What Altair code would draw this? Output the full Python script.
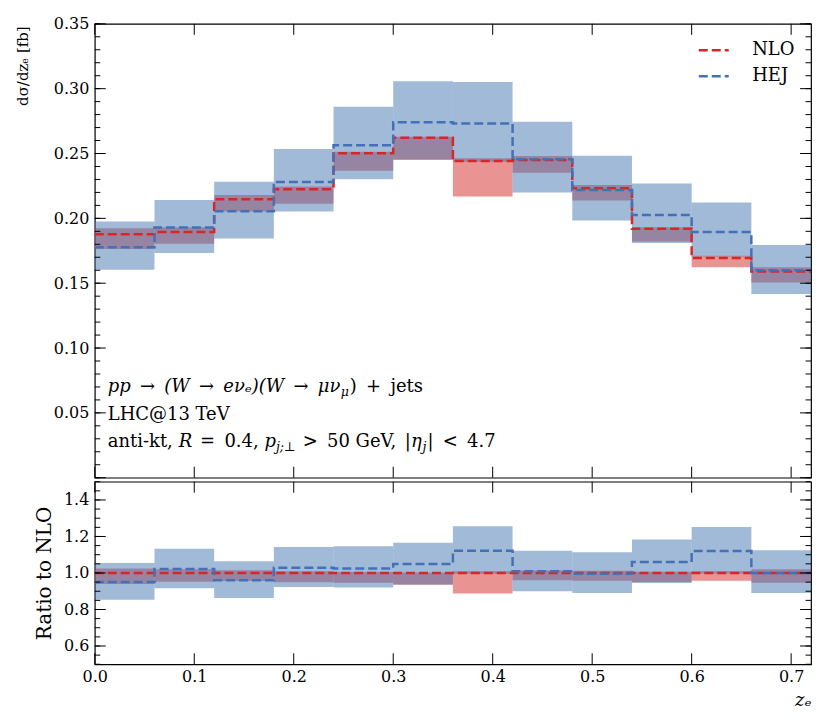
import altair as alt
import pandas as pd

# ---------------- data ----------------
EDGES = [0.00, 0.06, 0.12, 0.18, 0.24, 0.30, 0.36, 0.42, 0.48, 0.54, 0.60, 0.66, 0.72]

NLO    = [0.1878, 0.1894, 0.2148, 0.2225, 0.2502, 0.2622, 0.2442, 0.2450, 0.2232, 0.1919, 0.1694, 0.1591]
NLO_LO = [0.1763, 0.1804, 0.2053, 0.2112, 0.2368, 0.2450, 0.2168, 0.2352, 0.2137, 0.1822, 0.1622, 0.1506]
NLO_HI = [0.1924, 0.1932, 0.2181, 0.2245, 0.2514, 0.2630, 0.2463, 0.2481, 0.2258, 0.1932, 0.1712, 0.1622]

HEJ    = [0.1778, 0.1929, 0.2055, 0.2281, 0.2563, 0.2742, 0.2732, 0.2455, 0.2219, 0.2025, 0.1894, 0.1600]
HEJ_LO = [0.1604, 0.1732, 0.1845, 0.2053, 0.2302, 0.2455, 0.2437, 0.2199, 0.1983, 0.1809, 0.1706, 0.1417]
HEJ_HI = [0.1976, 0.2142, 0.2283, 0.2535, 0.2860, 0.3058, 0.3052, 0.2745, 0.2483, 0.2268, 0.2122, 0.1794]

R_NLO    = [1.000, 1.000, 1.000, 1.000, 1.000, 1.000, 1.000, 1.000, 1.000, 1.000, 1.000, 1.000]
R_NLO_LO = [0.940, 0.952, 0.956, 0.949, 0.946, 0.935, 0.888, 0.960, 0.957, 0.950, 0.957, 0.947]
R_NLO_HI = [1.025, 1.020, 1.015, 1.009, 1.005, 1.003, 1.009, 1.013, 1.012, 1.007, 1.010, 1.020]

R_HEJ    = [0.951, 1.022, 0.960, 1.029, 1.024, 1.049, 1.122, 1.009, 0.996, 1.060, 1.120, 1.000]
R_HEJ_LO = [0.854, 0.916, 0.863, 0.923, 0.920, 0.937, 0.996, 0.900, 0.890, 0.945, 0.997, 0.890]
R_HEJ_HI = [1.055, 1.133, 1.064, 1.142, 1.146, 1.166, 1.256, 1.122, 1.113, 1.183, 1.252, 1.124]

SERIES = ["NLO", "HEJ"]

X_LABELS = [0.0, 0.1, 0.2, 0.3, 0.4, 0.5, 0.6, 0.7]
Y_TOP_LABELS = [0.05, 0.10, 0.15, 0.20, 0.25, 0.30, 0.35]
Y_TOP_MINOR = [i / 100 for i in range(0, 36)]
Y_BOT_LABELS = [0.6, 0.8, 1.0, 1.2, 1.4]
Y_BOT_MINOR = [0.5 + i * 0.05 for i in range(0, 21)]

# ---------------- style ----------------
FONT = "DejaVu Serif"
RED = "#d62728"
BLUE_BAND = "#4375b1"
BLUE_LINE = "#4471b5"
W = 718
H_TOP = 455
H_BOT = 183
MAJ = 11
MIN = 5.5
NB = "\u00a0"
TH = "\u2009"
S = NB + TH


def bands(lo, hi):
    return pd.DataFrame({"x0": EDGES[:-1], "x1": EDGES[1:], "lo": lo, "hi": hi})


def steps(series_vals):
    rows = []
    for name, vals in series_vals:
        ext = list(vals) + [vals[-1]]
        for x, v in zip(EDGES, ext):
            rows.append({"x": x, "v": v, "s": name})
    return pd.DataFrame(rows)


xscale = alt.Scale(domain=[0, 0.72], nice=False, zero=False)
ytop = alt.Scale(domain=[0, 0.35], nice=False, zero=False)
ybot = alt.Scale(domain=[0.5, 1.5], nice=False, zero=False)
cscale = alt.Scale(domain=SERIES, range=[RED, BLUE_LINE])

TOP_Y_AXIS = alt.Axis(values=Y_TOP_LABELS, format=".2f", ticks=False, domain=False, grid=False,
                      labelFontSize=16, labelPadding=6, labelFlush=False,
                      title="dσ/dzₑ [fb]", titleFontSize=15, titleAngle=270,
                      titleX=-72, titleY=2, titleAlign="right", titleBaseline="middle")
BOT_Y_AXIS = alt.Axis(values=Y_BOT_LABELS, format=".1f", ticks=False, domain=False, grid=False,
                      labelFontSize=16, labelPadding=6, labelFlush=False,
                      title="Ratio to NLO", titleFontSize=20, titleAngle=270,
                      titleX=-50, titleY=H_BOT / 2, titleAlign="center", titleBaseline="middle")
BOT_X_AXIS = alt.Axis(values=X_LABELS, format=".1f", ticks=False, domain=False, grid=False,
                      labelFontSize=16, labelPadding=4, labelFlush=False,
                      title="zₑ", titleFontSize=18, titleFontStyle="italic",
                      titleX=W, titleY=36, titleAlign="right", titleBaseline="middle")


def tick_layers(xvals, yvals_major, yvals_minor, yscale, yaxis, xaxis, h):
    out = []
    dmaj = pd.DataFrame({"v": yvals_major})
    dmin = pd.DataFrame({"v": yvals_minor})
    dx = pd.DataFrame({"v": xvals})
    for d, ln in ((dmaj, MAJ), (dmin, MIN)):
        yenc = alt.Y("v:Q", scale=yscale, axis=yaxis)
        out.append(alt.Chart(d).mark_rule(color="black", strokeWidth=1).encode(
            y=yenc, x=alt.value(0), x2=alt.value(ln)))
        out.append(alt.Chart(d).mark_rule(color="black", strokeWidth=1).encode(
            y=yenc, x=alt.value(W - ln), x2=alt.value(W)))
    xenc = alt.X("v:Q", scale=xscale, axis=xaxis)
    out.append(alt.Chart(dx).mark_rule(color="black", strokeWidth=1).encode(
        x=xenc, y=alt.value(h - MAJ), y2=alt.value(h)))
    out.append(alt.Chart(dx).mark_rule(color="black", strokeWidth=1).encode(
        x=xenc, y=alt.value(0), y2=alt.value(MAJ)))
    return out


# approximate advance widths (em) for DejaVu Serif, used only to place annotation pieces
WID = {" ": 0.318, NB: 0.318, TH: 0.2, "p": 0.64, "→": 0.838, "(": 0.39, ")": 0.39, "W": 1.03,
       "e": 0.592, "ν": 0.59, "ₑ": 0.40, "μ": 0.65, "+": 0.838, "j": 0.32, "t": 0.402,
       "s": 0.513, "a": 0.596, "n": 0.644, "i": 0.32, "-": 0.338, "k": 0.617, ",": 0.318,
       "R": 0.734, "=": 0.838, ".": 0.318, ">": 0.838, "G": 0.775, "V": 0.722, "|": 0.337,
       "η": 0.64, "<": 0.838, "⊥": 0.838, ";": 0.337}


def twidth(s):
    return sum(WID.get(c, 0.636) for c in s)


def text_pieces(spec, x0, y0, size):
    """spec: (text, is_subscript, is_italic, gap_before_em); no leading/trailing blanks in text."""
    out = []
    x = x0
    for txt, sub, ital, gap in spec:
        fs = size * 0.7 if sub else size
        x += gap * size
        yy = y0 + (size * 0.3 if sub else 0)
        kw = dict(align="left", baseline="middle", font=FONT, fontSize=fs, color="black")
        if ital:
            kw["fontStyle"] = "italic"
        out.append(alt.Chart(pd.DataFrame({"t": [txt]})).mark_text(**kw).encode(
            text="t:N", x=alt.value(x), y=alt.value(yy)))
        x += twidth(txt) * fs
    return out


ANN_SIZE = 18
line1 = text_pieces([("pp" + S + "→" + S + "(W" + S + "→" + S + "eνₑ)(W" + S + "→" + S + "μν", False, True, 0),
                     ("μ", True, True, 0.02),
                     (")" + S + "+" + S + "jets", False, False, 0.05)], 13, 364, ANN_SIZE)
line2 = text_pieces([("LHC@13" + NB + "TeV", False, False, 0)], 13, 392, ANN_SIZE)
line3 = text_pieces([("anti-kt,", False, False, 0),
                     ("R", False, True, 0.32),
                     ("=" + S + "0.4,", False, False, 0.45),
                     ("p", False, True, 0.32),
                     ("j;⊥", True, True, 0.0),
                     (">" + S + "50" + NB + "GeV,", False, False, 0.45),
                     ("|", False, False, 0.32),
                     ("η", False, True, 0.02),
                     ("j", True, True, 0.0),
                     ("|" + S + "<" + S + "4.7", False, False, 0.05)],
                    13, 419, ANN_SIZE)

# ---------------- top panel ----------------
top_red = alt.Chart(bands(NLO_LO, NLO_HI)).mark_rect(color=RED, opacity=0.5).encode(
    x=alt.X("x0:Q", scale=xscale, axis=None), x2="x1",
    y=alt.Y("lo:Q", scale=ytop, axis=TOP_Y_AXIS), y2="hi")
top_blue = alt.Chart(bands(HEJ_LO, HEJ_HI)).mark_rect(color=BLUE_BAND, opacity=0.5).encode(
    x=alt.X("x0:Q", scale=xscale, axis=None), x2="x1",
    y=alt.Y("lo:Q", scale=ytop, axis=TOP_Y_AXIS), y2="hi")
top_lines = alt.Chart(steps([("NLO", NLO), ("HEJ", HEJ)])).mark_line(
    interpolate="step-after", strokeDash=[9, 4], strokeWidth=2.5).encode(
    x=alt.X("x:Q", scale=xscale, axis=None),
    y=alt.Y("v:Q", scale=ytop, axis=TOP_Y_AXIS),
    color=alt.Color("s:N", scale=cscale, sort=SERIES,
                    legend=alt.Legend(title=None, orient="none", legendX=604, legendY=10,
                                      symbolType="stroke", symbolSize=900, symbolStrokeWidth=2.5,
                                      symbolDash=[9, 4], labelFont=FONT, labelFontSize=18,
                                      labelColor="black", labelOffset=22, rowPadding=0, padding=0)))

top = alt.layer(top_red, top_blue, top_lines,
                *tick_layers(X_LABELS, [0.0] + Y_TOP_LABELS, Y_TOP_MINOR, ytop, TOP_Y_AXIS, None, H_TOP),
                *line1, *line2, *line3).properties(width=W, height=H_TOP)

# ---------------- ratio panel ----------------
bot_red = alt.Chart(bands(R_NLO_LO, R_NLO_HI)).mark_rect(color=RED, opacity=0.5).encode(
    x=alt.X("x0:Q", scale=xscale, axis=BOT_X_AXIS), x2="x1",
    y=alt.Y("lo:Q", scale=ybot, axis=BOT_Y_AXIS), y2="hi")
bot_blue = alt.Chart(bands(R_HEJ_LO, R_HEJ_HI)).mark_rect(color=BLUE_BAND, opacity=0.5).encode(
    x=alt.X("x0:Q", scale=xscale, axis=BOT_X_AXIS), x2="x1",
    y=alt.Y("lo:Q", scale=ybot, axis=BOT_Y_AXIS), y2="hi")
bot_lines = alt.Chart(steps([("NLO", R_NLO), ("HEJ", R_HEJ)])).mark_line(
    interpolate="step-after", strokeDash=[9, 4], strokeWidth=2.5).encode(
    x=alt.X("x:Q", scale=xscale, axis=BOT_X_AXIS),
    y=alt.Y("v:Q", scale=ybot, axis=BOT_Y_AXIS),
    color=alt.Color("s:N", scale=cscale, sort=SERIES, legend=None))

bottom = alt.layer(bot_red, bot_blue, bot_lines,
                   *tick_layers(X_LABELS, Y_BOT_LABELS, Y_BOT_MINOR, ybot, BOT_Y_AXIS, BOT_X_AXIS, H_BOT)
                   ).properties(width=W, height=H_BOT)

chart = alt.vconcat(top, bottom, spacing=0).resolve_legend(color="independent").properties(
    padding={"left": 7, "top": 6, "right": 5, "bottom": 5}
).configure_view(stroke="black", strokeWidth=1.2).configure_axis(
    labelFont=FONT, titleFont=FONT, labelColor="black", titleColor="black", titleFontWeight="normal"
)

chart.save("out.html", embed_options={"renderer": "svg", "actions": False})
